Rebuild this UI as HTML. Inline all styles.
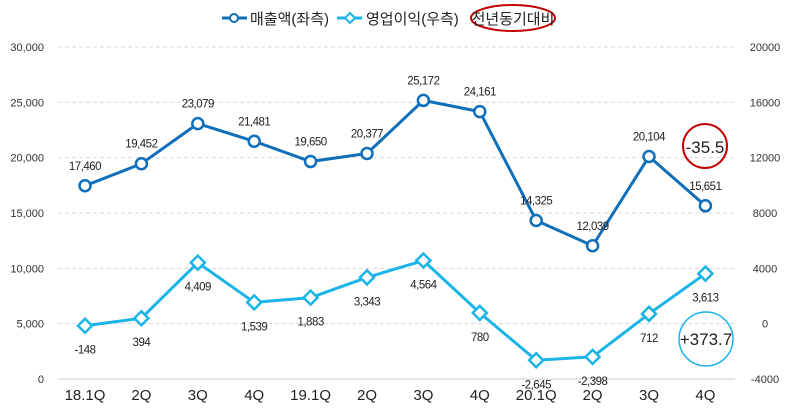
<!DOCTYPE html>
<html><head><meta charset="utf-8"><style>
body{margin:0;background:#fff;}
svg text{font-family:"Liberation Sans","Noto Sans CJK KR",sans-serif;}
</style></head><body>
<svg id="chart" width="788" height="410" xmlns="http://www.w3.org/2000/svg"></svg>
<script>
const categories=["18.1Q","2Q","3Q","4Q","19.1Q","2Q","3Q","4Q","20.1Q","2Q","3Q","4Q"];
const revenue=[17460,19452,23079,21481,19650,20377,25172,24161,14325,12039,20104,15651];
const opProfit=[-148,394,4409,1539,1883,3343,4564,780,-2645,-2398,712,3613];
const leftTicks=[0,5000,10000,15000,20000,25000,30000];
const rightTicks=[-4000,0,4000,8000,12000,16000,20000];
const NS="http://www.w3.org/2000/svg";
const svg=document.getElementById('chart');
const x=i=>85+i*56.4;
const yL=v=>379-v/30000*332;
const yR=v=>379-(v+4000)/24000*332;
function el(t,a,p){const e=document.createElementNS(NS,t);for(const k in a)e.setAttribute(k,a[k]);(p||svg).appendChild(e);return e;}
const fmt=v=>v.toLocaleString('en-US');
leftTicks.forEach(v=>{
  const g=el('line',{x1:58,x2:735,y1:yL(v),y2:yL(v),stroke:v===0?'#ccc':'#d9d9d9','stroke-dasharray':v===0?'':'4,3'});
  
  
  const t=el('text',{x:44,y:yL(v)+4,'text-anchor':'end','font-size':11,fill:'#333'});
  t.textContent=fmt(v);
  
  
});
rightTicks.forEach(v=>{
  const t=el('text',{x:765,y:yR(v)+4,'text-anchor':'middle','font-size':11,fill:'#333'});
  t.textContent=v;
  
  
});
categories.forEach((c,i)=>{
  const t=el('text',{x:x(i),y:400,'text-anchor':'middle','font-size':15,fill:'#222'});
  t.textContent=c;
  
  
});
function series(vals,yf,color,shape,off,name){
  const pl=el('polyline',{points:vals.map((v,i)=>x(i)+','+yf(v)).join(' '),fill:'none',stroke:color,'stroke-width':3});
  
  
  vals.forEach((v,i)=>{
    let m;
    if(shape==='c') m=el('circle',{cx:x(i),cy:yf(v),r:5.5,fill:'#fff',stroke:color,'stroke-width':2.5});
    else {const X=x(i),Y=yf(v);m=el('polygon',{points:`${X},${Y-7} ${X+7},${Y} ${X},${Y+7} ${X-7},${Y}`,fill:'#fff',stroke:color,'stroke-width':2.5});}
    
    
    const t=el('text',{x:x(i),y:yf(v)+off,'text-anchor':'middle','font-size':11.5,fill:'#222','letter-spacing':'-0.5'});
    t.textContent=fmt(v);
    
    
  });
}
series(revenue,yL,'#0f6fba','c',-16,'revenue');
series(opProfit,yR,'#1ab4e8','d',28,'operating-profit');
// legend
const lg=el('g',{});


el('line',{x1:222,x2:247,y1:18,y2:18,stroke:'#0f6fba','stroke-width':3},lg);
el('circle',{cx:234,cy:18,r:4,fill:'#fff',stroke:'#0f6fba','stroke-width':2},lg);
let t=el('text',{x:250,y:24,'font-size':15,fill:'#222'},lg);t.textContent='매출액(좌측)';


el('line',{x1:337,x2:362,y1:18,y2:18,stroke:'#1ab4e8','stroke-width':3},lg);
el('polygon',{points:'350,13 355,18 350,23 345,18',fill:'#fff',stroke:'#1ab4e8','stroke-width':2},lg);
t=el('text',{x:366,y:24,'font-size':15,fill:'#222'},lg);t.textContent='영업이익(우측)';


el('ellipse',{cx:513,cy:18,rx:42,ry:13,fill:'none',stroke:'#c00000','stroke-width':2},lg);
t=el('text',{x:513,y:24,'text-anchor':'middle','font-size':15,fill:'#222'},lg);t.textContent='전년동기대비';


// annotations
el('circle',{cx:705,cy:146,r:22,fill:'none',stroke:'#c00000','stroke-width':2});
t=el('text',{x:705,y:153,'text-anchor':'middle','font-size':17,fill:'#222'});t.textContent='-35.5';


el('circle',{cx:706,cy:339,r:27,fill:'none',stroke:'#1ab4e8','stroke-width':1.5});
t=el('text',{x:706,y:345,'text-anchor':'middle','font-size':17,fill:'#222'});t.textContent='+373.7';


</script>
</body></html>
